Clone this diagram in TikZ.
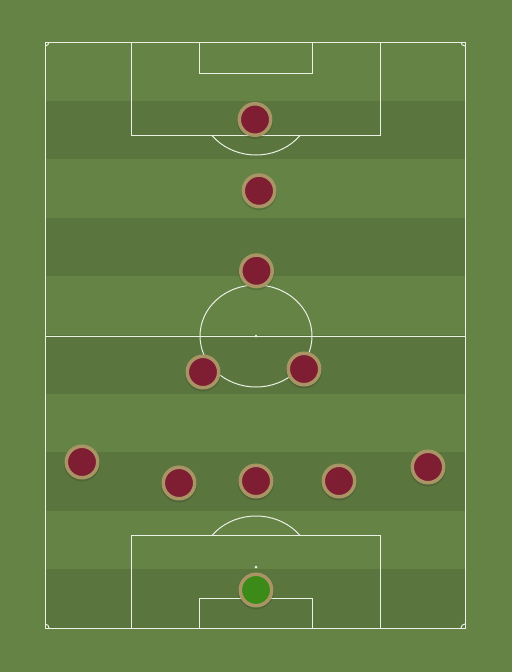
\documentclass[tikz,border=0pt]{standalone}
\definecolor{grasslight}{RGB}{100,131,69}
\definecolor{grassdark}{RGB}{90,117,62}
\definecolor{pitchline}{RGB}{235,240,228}
\definecolor{shirtred}{RGB}{127,29,50}
\definecolor{shirtborder}{RGB}{168,148,100}
\definecolor{keepergreen}{RGB}{60,139,24}
\tikzset{
  pline/.style={draw=pitchline, line width=1pt},
  player/.style={circle, inner sep=0pt, minimum size=31.5pt, fill=shirtred, draw=shirtborder, line width=3.5pt},
  keeper/.style={player, fill=keepergreen},
  shadowdisc/.style={fill=black, opacity=0.12, circle, inner sep=0pt, minimum size=36pt, draw=none}
}
\begin{document}
\begin{tikzpicture}[x=1pt,y=-1pt]
\useasboundingbox (0,0) rectangle (512,672);
\fill[grasslight] (0,0) rectangle (512,672);
% stripes
\foreach \i in {1,3,5,7,9} {
  \fill[grassdark] (45,{42+\i*58.6}) rectangle (465,{42+(\i+1)*58.6});
}
% outer lines
\draw[pline] (45,42) rectangle (465,628);
\draw[pline] (45,336) -- (465,336);
\draw[pline] (256,336) ellipse [x radius=56pt, y radius=51pt];
\fill[pitchline] (256,336) circle [radius=1.5pt];
% top penalty area
\draw[pline] (131,42) rectangle (380,135);
\draw[pline] (199,42) rectangle (312,73);
\fill[pitchline] (256,104) circle [radius=1.5pt];
\begin{scope}
  \clip (45,135.5) rectangle (465,200);
  \draw[pline] (256,104) ellipse [x radius=56pt, y radius=51pt];
\end{scope}
% bottom penalty area
\draw[pline] (131,535) rectangle (380,628);
\draw[pline] (199,598) rectangle (312,628);
\fill[pitchline] (256,567) circle [radius=1.5pt];
\begin{scope}
  \clip (45,470) rectangle (465,534.5);
  \draw[pline] (256,567) ellipse [x radius=56pt, y radius=51pt];
\end{scope}
% corner arcs
\begin{scope}
  \clip (45,42) rectangle (465,628);
  \draw[pline] (45,42) circle [radius=4pt];
  \draw[pline] (465,42) circle [radius=4pt];
  \draw[pline] (45,628) circle [radius=4pt];
  \draw[pline] (465,628) circle [radius=4pt];
\end{scope}
% players
\foreach \n/\x/\y in {p1/255/119.5, p2/259/190.8, p3/256.5/270.8, p4/203/372, p5/304/369,
  p6/82/462, p7/179/483, p8/256/481, p9/339/481, p10/428/467, gk/256/590} {
  \node[shadowdisc] at (\x,\y+1.5) {};
}
\node[player] (p1) at (255,119.5) {};
\node[player] (p2) at (259,190.8) {};
\node[player] (p3) at (256.5,270.8) {};
\node[player] (p4) at (203,372) {};
\node[player] (p5) at (304,369) {};
\node[player] (p6) at (82,462) {};
\node[player] (p7) at (179,483) {};
\node[player] (p8) at (256,481) {};
\node[player] (p9) at (339,481) {};
\node[player] (p10) at (428,467) {};
\node[keeper] (gk) at (256,590) {};
\end{tikzpicture}
\end{document}
